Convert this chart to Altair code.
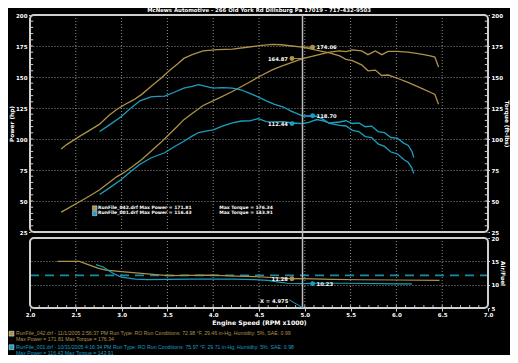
import altair as alt
import pandas as pd

# ---------------- values ----------------
TITLE = "McNews Automotive - 266 Old York Rd Dillsburg Pa 17019 - 717-432-9503"
RUN_FILES = ["RunFile_042.drf", "RunFile_001.drf"]
RUN_INFO = [
    "RunFile_042.drf - 11/1/2005 2:56:37 PM  Run Type: RO  Run Conditions: 72.98 °F, 29.46 in-Hg,  Humidity:  5%, SAE: 0.99",
    "RunFile_001.drf - 10/31/2005 4:16:34 PM  Run Type: RO  Run Conditions: 75.97 °F, 29.71 in-Hg,  Humidity:  5%, SAE: 0.98",
]
MAX_POWER = [171.81, 116.43]
MAX_TORQUE = [176.34, 143.91]

X_TICKS = [2.0, 2.5, 3.0, 3.5, 4.0, 4.5, 5.0, 5.5, 6.0, 6.5, 7.0]
HP_TICKS = [25, 50, 75, 100, 125, 150, 175, 200]
AFR_TICKS = [5, 10, 15, 20]

RPM_042 = [2.34, 2.40, 2.55, 2.65, 2.76, 2.86, 2.95, 3.04, 3.13, 3.22, 3.33, 3.43, 3.52, 3.61, 3.68,
           3.77, 3.89, 4.05, 4.21, 4.37, 4.53, 4.65, 4.74, 4.86, 4.975, 5.10, 5.20, 5.27, 5.38, 5.45,
           5.52, 5.62, 5.69, 5.77, 5.84, 5.91, 6.01, 6.12, 6.22, 6.30, 6.37, 6.42, 6.46]
HP_042 = [41.0, 43.5, 49.8, 54.0, 59.0, 64.8, 69.7, 73.6, 78.4, 83.5, 90.7, 97.3, 103.9, 110.3, 115.6,
          120.6, 127.0, 132.6, 138.3, 144.8, 151.4, 156.0, 158.5, 161.8, 164.87, 167.0, 168.8, 170.0, 171.0, 170.5,
          171.81, 171.0, 168.0, 171.0, 168.0, 170.6, 170.6, 170.0, 169.0, 168.0, 167.0, 166.0, 158.0]
TQ_042 = [92.0, 95.5, 102.5, 107.0, 112.0, 119.0, 124.0, 128.0, 131.5, 136.0, 143.0, 149.0, 155.0, 160.5, 165.0,
          168.0, 171.0, 172.0, 172.5, 174.0, 175.5, 176.34, 176.0, 175.0, 174.06, 172.0, 170.5, 169.5, 167.0, 164.3,
          163.2, 159.8, 155.0, 155.6, 151.2, 151.6, 149.0, 145.8, 142.7, 140.0, 137.7, 135.9, 128.0]

RPM_001 = [2.76, 2.86, 2.99, 3.11, 3.20, 3.32, 3.39, 3.47, 3.57, 3.68, 3.77, 3.84, 3.92, 4.00, 4.10,
           4.21, 4.31, 4.40, 4.49, 4.58, 4.67, 4.76, 4.85, 4.975, 5.05, 5.13, 5.20, 5.27, 5.38, 5.45,
           5.52, 5.59, 5.66, 5.73, 5.80, 5.87, 5.94, 6.01, 6.08, 6.13, 6.17, 6.19]
HP_001 = [55.2, 60.2, 67.0, 74.3, 79.7, 84.7, 86.7, 88.9, 93.5, 98.2, 102.3, 105.2, 106.4, 107.4, 110.4,
          113.0, 114.5, 114.6, 116.43, 114.0, 113.8, 114.0, 113.1, 112.44, 113.7, 115.7, 114.6, 112.9, 113.7, 114.7,
          112.5, 112.9, 109.9, 110.4, 106.0, 105.1, 101.2, 100.7, 96.7, 94.8, 89.9, 85.1]
TQ_001 = [106.0, 111.0, 117.7, 125.5, 130.8, 134.0, 134.3, 134.5, 137.5, 141.0, 142.5, 143.91, 142.5, 141.0, 141.5,
          141.0, 139.5, 136.8, 134.0, 130.8, 128.0, 126.0, 122.5, 118.7, 118.3, 118.5, 115.8, 112.5, 111.0, 110.5,
          107.0, 106.0, 102.0, 101.2, 96.0, 94.0, 89.5, 88.0, 83.5, 81.0, 76.5, 72.2]

AFR_RPM_042 = [2.30, 2.54, 2.65, 2.75, 2.83, 3.00, 3.25, 3.50, 3.75, 3.96, 4.25, 4.49, 4.70, 4.85, 4.975,
               5.30, 5.60, 6.00, 6.47]
AFR_042 = [15.0, 15.0, 14.2, 13.5, 13.1, 12.8, 12.35, 11.95, 12.0, 12.05, 11.85, 11.7, 11.45, 11.3, 11.28,
           11.15, 11.05, 11.0, 10.9]
AFR_RPM_001 = [2.72, 2.80, 2.86, 2.93, 3.00, 3.15, 3.29, 3.50, 3.75, 4.00, 4.24, 4.45, 4.60, 4.70, 4.81,
               4.975, 5.10, 5.48, 6.00, 6.17]
AFR_001 = [14.3, 13.8, 13.0, 12.2, 11.6, 11.2, 11.1, 11.15, 11.2, 11.2, 11.2, 11.1, 10.9, 10.6, 10.3,
           10.23, 10.3, 10.3, 10.15, 10.15]
AFR_TARGET = 12.0

CURSOR_RPM = 4.975
CURSOR_TQ = [174.06, 118.70]
CURSOR_HP = [164.87, 112.44]
CURSOR_AFR = [11.28, 10.23]

# ---------------- styling ----------------
GOLD = "#ad9247"
CYAN = "#1b9fc0"
GOLD_TXT = "#c9a443"
CYAN_TXT = "#22b3d6"
GOLD_MK = "#e6c055"
CYAN_MK = "#3ccaea"
TEAL = "#1a8aa6"
GRID = "#8e8e8e"
FRAME = "#cfcfcf"
WHITE = "#ffffff"
FONT = "DejaVu Sans"

W, H = 458, 293
TOP = dict(domain=[25, 200], range=[217, 0], nice=False, zero=False)
BOT = dict(domain=[5, 20], range=[293, 223], nice=False, zero=False)

xaxis = alt.Axis(orient="bottom", values=X_TICKS, format=".1f", title="Engine Speed (RPM x1000)",
                 labelFlush=False, labelColor=WHITE, labelFont=FONT, labelFontWeight="bold", labelFontSize=5.5,
                 titleColor=WHITE, titleFont=FONT, titleFontWeight="bold", titleFontSize=6.2,
                 tickColor=FRAME, tickSize=3, labelPadding=1, titlePadding=2, domain=False, grid=False)


def yaxis(orient, values, title, grid):
    return alt.Axis(orient=orient, values=values, format="d", title=title, grid=grid,
                    gridColor=GRID, gridDash=[1, 2], gridWidth=1, labelOverlap=False,
                    labelColor=WHITE, labelFont=FONT, labelFontWeight="bold", labelFontSize=5.5,
                    titleColor=WHITE, titleFont=FONT, titleFontWeight="bold", titleFontSize=5.8,
                    tickColor=FRAME, tickSize=1.5, labelPadding=1.5, titlePadding=1, domain=False)


def X(f):
    return alt.X(f, type="quantitative", scale=alt.Scale(domain=[2, 7], nice=False, zero=False), axis=xaxis)


def YT(f, axis=None):
    return alt.Y(f, type="quantitative", scale=alt.Scale(**TOP), axis=axis)


def YB(f, axis=None):
    return alt.Y(f, type="quantitative", scale=alt.Scale(**BOT), axis=axis)


color = alt.Color("run:N", scale=alt.Scale(domain=RUN_FILES, range=[GOLD, CYAN]), legend=None)

# ---------------- tables ----------------
curves = pd.concat([
    pd.DataFrame({"run": RUN_FILES[0], "rpm": RPM_042, "hp": HP_042, "tq": TQ_042}),
    pd.DataFrame({"run": RUN_FILES[1], "rpm": RPM_001, "hp": HP_001, "tq": TQ_001}),
])
afr = pd.concat([
    pd.DataFrame({"run": RUN_FILES[0], "rpm": AFR_RPM_042, "afr": AFR_042}),
    pd.DataFrame({"run": RUN_FILES[1], "rpm": AFR_RPM_001, "afr": AFR_001}),
])
target = pd.DataFrame({"rpm": [X_TICKS[0], X_TICKS[-1]], "afr": [AFR_TARGET, AFR_TARGET]})
vgrid = pd.DataFrame({"rpm": X_TICKS[1:-1]})
vgrid_top = vgrid.assign(lo=HP_TICKS[0], hi=HP_TICKS[-1])
vgrid_bot = vgrid.assign(lo=AFR_TICKS[0], hi=AFR_TICKS[-1])
frame_top = pd.DataFrame({"x0": [X_TICKS[0]], "x1": [X_TICKS[-1]], "lo": [HP_TICKS[0]], "hi": [HP_TICKS[-1]]})
frame_bot = pd.DataFrame({"x0": [X_TICKS[0]], "x1": [X_TICKS[-1]], "lo": [AFR_TICKS[0]], "hi": [AFR_TICKS[-1]]})

minor_v = [v for v in range(30, 200, 5)]
minor_top = pd.DataFrame({"x0": [2.0] * len(minor_v) + [6.965] * len(minor_v),
                          "x1": [2.035] * len(minor_v) + [7.0] * len(minor_v),
                          "v": minor_v + minor_v})
minor_x = [round(2.0 + 0.1 * i, 1) for i in range(1, 50)]
minor_bot = pd.DataFrame({"rpm": minor_x, "lo": 5.0, "hi": 5.6})

cursor_top = pd.DataFrame({"rpm": [CURSOR_RPM], "lo": [20.2], "hi": [200.0]})
cursor_bot = pd.DataFrame({"rpm": [CURSOR_RPM], "lo": [5.0], "hi": [20.0]})

L, R = CURSOR_RPM - 0.115, CURSOR_RPM + 0.11
mk_top = pd.DataFrame({
    "run": [RUN_FILES[0], RUN_FILES[0], RUN_FILES[1], RUN_FILES[1]],
    "rpm": [R, L, R, L],
    "v": [CURSOR_TQ[0], CURSOR_HP[0], CURSOR_TQ[1], CURSOR_HP[1]],
    "side": ["r", "l", "r", "l"],
})
mk_top["label"] = mk_top["v"].map(lambda v: f"{v:.2f}")
mk_top["c"] = CURSOR_RPM
mk_bot = pd.DataFrame({"run": RUN_FILES, "rpm": [L, R], "v": CURSOR_AFR, "side": ["l", "r"]})
mk_bot["label"] = mk_bot["v"].map(lambda v: f"{v:.2f}")
mk_bot["c"] = CURSOR_RPM
mk_color = alt.Color("run:N", scale=alt.Scale(domain=RUN_FILES, range=[GOLD_MK, CYAN_MK]), legend=None)

inner = pd.DataFrame({
    "run": RUN_FILES,
    "v": [44.3, 40.0],
    "t1": [f"{RUN_FILES[i]} Max Power = {MAX_POWER[i]:.2f}" for i in range(2)],
    "t2": [f"Max Torque = {MAX_TORQUE[i]:.2f}" for i in range(2)],
})
inner["xb"], inner["x1"], inner["x2"] = 2.706, 2.743, 4.067

bottom = pd.DataFrame({
    "run": [RUN_FILES[0], RUN_FILES[0], RUN_FILES[1], RUN_FILES[1]],
    "v": [-0.35, -1.64, -3.25, -4.54],
    "t": [RUN_INFO[0], f"Max Power = {MAX_POWER[0]:.2f}  Max Torque = {MAX_TORQUE[0]:.2f}",
          RUN_INFO[1], f"Max Power = {MAX_POWER[1]:.2f}  Max Torque = {MAX_TORQUE[1]:.2f}"],
})
bottom["x"] = 1.847
boxes = bottom.iloc[[0, 2]].assign(x=1.798, v=[-0.5, -3.4])
txt_color = alt.Color("run:N", scale=alt.Scale(domain=RUN_FILES, range=[GOLD_TXT, CYAN_TXT]), legend=None)

xlabel = pd.DataFrame({"rpm": [4.82], "v": [6.6], "t": [f"X = {CURSOR_RPM:.3f}"]})
xconn = pd.DataFrame({"rpm": [4.83, CURSOR_RPM], "v": [6.75, 5.1]})
title_df = pd.DataFrame({"rpm": [4.5], "v": [201.3], "t": [TITLE]})

# ---------------- layers ----------------
layers = [
    alt.Chart(vgrid_top).mark_rule(color=GRID, strokeDash=[1, 2], strokeWidth=1).encode(
        x=X("rpm"), y=YT("lo"), y2=alt.Y2("hi")),
    alt.Chart(vgrid_bot).mark_rule(color=GRID, strokeDash=[1, 2], strokeWidth=1).encode(
        x=X("rpm"), y=YB("lo"), y2=alt.Y2("hi")),
    alt.Chart(target).mark_line(color=TEAL, strokeDash=[9, 6], strokeWidth=1.8).encode(
        x=X("rpm"), y=YB("afr")),
    alt.Chart(curves).mark_line(strokeWidth=1.3).encode(
        x=X("rpm"), y=YT("hp", yaxis("left", HP_TICKS, "Power (hp)", True)), color=color),
    alt.Chart(curves).mark_line(strokeWidth=1.3).encode(
        x=X("rpm"), y=YT("tq", yaxis("right", HP_TICKS, "Torque (ft-lbs)", False)), color=color),
    alt.Chart(afr).mark_line(strokeWidth=1.2).encode(
        x=X("rpm"), y=YB("afr", yaxis("right", AFR_TICKS, "Air/Fuel", True)), color=color),
    alt.Chart(frame_top).mark_rect(fillOpacity=0, stroke=FRAME, strokeWidth=2, cornerRadius=4).encode(
        x=X("x0"), x2=alt.X2("x1"), y=YT("lo"), y2=alt.Y2("hi")),
    alt.Chart(frame_bot).mark_rect(fillOpacity=0, stroke=FRAME, strokeWidth=2, cornerRadius=4).encode(
        x=X("x0"), x2=alt.X2("x1"), y=YB("lo"), y2=alt.Y2("hi")),
    alt.Chart(minor_top).mark_rule(color=FRAME, strokeWidth=1).encode(
        x=X("x0"), x2=alt.X2("x1"), y=YT("v")),
    alt.Chart(minor_bot).mark_rule(color=FRAME, strokeWidth=1).encode(
        x=X("rpm"), y=YB("lo"), y2=alt.Y2("hi")),
    alt.Chart(cursor_top).mark_rule(color="#bdbdbd", strokeWidth=1.5).encode(
        x=X("rpm"), y=YT("lo"), y2=alt.Y2("hi")),
    alt.Chart(cursor_bot).mark_rule(color="#bdbdbd", strokeWidth=1.5).encode(
        x=X("rpm"), y=YB("lo"), y2=alt.Y2("hi")),
    # cursor read-outs
    alt.Chart(mk_top).mark_rule(strokeWidth=1).encode(
        x=X("rpm"), x2=alt.X2("c"), y=YT("v"), color=mk_color),
    alt.Chart(mk_bot).mark_rule(strokeWidth=1).encode(
        x=X("rpm"), x2=alt.X2("c"), y=YB("v"), color=mk_color),
    alt.Chart(mk_top).mark_circle(size=24, opacity=1).encode(x=X("rpm"), y=YT("v"), color=mk_color),
    alt.Chart(mk_bot).mark_circle(size=24, opacity=1).encode(x=X("rpm"), y=YB("v"), color=mk_color),
    alt.Chart(mk_top).transform_filter("datum.side == 'r'").mark_text(
        align="left", baseline="middle", dx=4, color=WHITE, font=FONT, fontWeight="bold", fontSize=5.2).encode(
        x=X("rpm"), y=YT("v"), text="label:N"),
    alt.Chart(mk_top).transform_filter("datum.side == 'l'").mark_text(
        align="right", baseline="middle", dx=-4, color=WHITE, font=FONT, fontWeight="bold", fontSize=5.2).encode(
        x=X("rpm"), y=YT("v"), text="label:N"),
    alt.Chart(mk_bot).transform_filter("datum.side == 'r'").mark_text(
        align="left", baseline="middle", dx=4, color=WHITE, font=FONT, fontWeight="bold", fontSize=5.2).encode(
        x=X("rpm"), y=YB("v"), text="label:N"),
    alt.Chart(mk_bot).transform_filter("datum.side == 'l'").mark_text(
        align="right", baseline="middle", dx=-4, color=WHITE, font=FONT, fontWeight="bold", fontSize=5.2).encode(
        x=X("rpm"), y=YB("v"), text="label:N"),
    alt.Chart(xconn).mark_line(color=CYAN, strokeWidth=1).encode(x=X("rpm"), y=YB("v")),
    alt.Chart(xlabel).mark_text(align="right", baseline="middle", color=WHITE, font=FONT,
                                fontWeight="bold", fontSize=5.2).encode(x=X("rpm"), y=YB("v"), text="t:N"),
    # legend inside the upper panel
    alt.Chart(inner).mark_square(size=20, opacity=1, stroke="#eeeeee", strokeWidth=0.5).encode(
        x=X("xb"), y=YT("v"), color=mk_color),
    alt.Chart(inner).mark_text(align="left", baseline="middle", color=WHITE, font=FONT,
                               fontWeight="bold", fontSize=4.5).encode(x=X("x1"), y=YT("v"), text="t1:N"),
    alt.Chart(inner).mark_text(align="left", baseline="middle", color=WHITE, font=FONT,
                               fontWeight="bold", fontSize=4.5).encode(x=X("x2"), y=YT("v"), text="t2:N"),
    # run information under the chart
    alt.Chart(boxes).mark_square(size=24, opacity=1, stroke="#eeeeee", strokeWidth=0.5).encode(
        x=X("x"), y=YB("v"), color=mk_color),
    alt.Chart(bottom).mark_text(align="left", baseline="middle", font="Liberation Sans", fontSize=5.2).encode(
        x=X("x"), y=YB("v"), text="t:N", color=txt_color),
    # header
    alt.Chart(title_df).mark_text(align="center", baseline="bottom", color=WHITE, font=FONT,
                                  fontWeight="bold", fontSize=5.4).encode(x=X("rpm"), y=YT("v"), text="t:N"),
]

chart = alt.layer(*layers).resolve_scale(y="independent").properties(
    width=W, height=H,
    autosize=alt.AutoSizeParams(type="none"),
    padding={"left": 22, "top": 7, "right": 22, "bottom": 47},
    background="#000000",
).configure_view(strokeWidth=0)

chart.save("out.html", embed_options={"renderer": "svg", "actions": False})
